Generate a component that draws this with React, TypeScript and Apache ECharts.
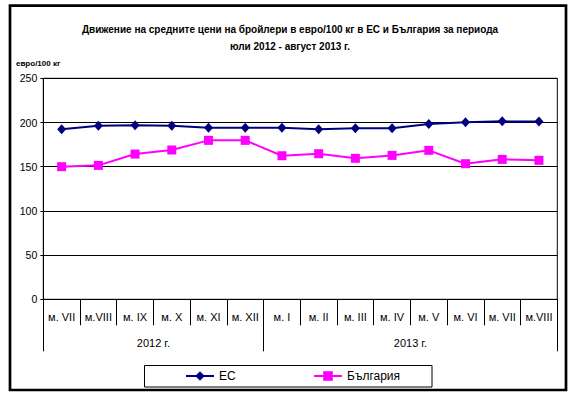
import React, { useEffect, useRef } from "react";
import * as echarts from "echarts";

const months = ["м. VII", "м.VIII", "м. IX", "м. X", "м. XI", "м. XII", "м. I", "м. II", "м. III", "м. IV", "м. V", "м. VI", "м. VII", "м.VIII"];
const years = ["2012 г.", "2013 г."];
const monthsPerYear = [6, 8];
const ecValues = [192.3, 196.3, 196.8, 196.3, 194.1, 194.0, 194.0, 192.3, 193.4, 193.4, 198.3, 200.2, 201.3, 201.0];
const bgValues = [150.0, 151.5, 164.3, 168.9, 179.8, 179.8, 162.4, 164.7, 159.5, 162.8, 168.5, 153.4, 158.3, 157.2];
const yTicks = [0, 50, 100, 150, 200, 250];

const FONT = "'Liberation Sans', Arial, sans-serif";

export default function App() {
  const ref = useRef<HTMLDivElement>(null);
  useEffect(() => {
    if (!ref.current) return;
    const chart = echarts.init(ref.current, null, { renderer: "svg" });
    const bounds: number[] = [0];
    const centers: number[] = [];
    monthsPerYear.forEach((n) => {
      const start = bounds[bounds.length - 1];
      centers.push(start + n / 2);
      bounds.push(start + n);
    });
    const total = bounds[bounds.length - 1];
    chart.setOption({
      animation: false,
      backgroundColor: "#fff",
      textStyle: { fontFamily: FONT, color: "#000" },
      title: [
        {
          text: "Движение на средните цени на бройлери в евро/100 кг в ЕС и България за периода\nюли 2012 - август 2013 г.",
          left: "center",
          top: 16,
          textStyle: { fontFamily: FONT, fontSize: 10, fontWeight: "bold", color: "#000", lineHeight: 17 },
        },
        {
          text: "евро/100 кг",
          left: 16,
          top: 58,
          padding: 0,
          textStyle: { fontFamily: FONT, fontSize: 8, fontWeight: "bold", color: "#000", lineHeight: 10 },
        },
      ],
      graphic: [
        { type: "rect", shape: { x: 10, y: 5.7, width: 556, height: 384.3 }, style: { fill: "none", stroke: "#000", lineWidth: 2.7 }, silent: true },
        { type: "rect", shape: { x: 144.5, y: 365.5, width: 287.5, height: 21.5 }, style: { fill: "none", stroke: "#000", lineWidth: 1 }, silent: true },
      ],
      legend: [
        {
          data: ["ЕС"], left: 185, top: 370, padding: 0, itemWidth: 28, itemHeight: 12,
          textStyle: { fontFamily: FONT, fontSize: 12, color: "#000" },
        },
        {
          data: ["България"], left: 313, top: 370, padding: 0, itemWidth: 28, itemHeight: 12,
          textStyle: { fontFamily: FONT, fontSize: 12, color: "#000" },
        },
      ],
      grid: { left: 43.3, right: 22.7, top: 78.3, bottom: 97.7, show: true, borderColor: "#000", borderWidth: 1, backgroundColor: "transparent" },
      xAxis: [
        {
          type: "category",
          data: months,
          boundaryGap: true,
          axisLine: { show: true, lineStyle: { color: "#000", width: 1 } },
          axisTick: { show: true, interval: 0, length: 26, lineStyle: { color: "#000", width: 1 } },
          axisLabel: { interval: 0, margin: 12, fontSize: 11, color: "#000", fontFamily: FONT },
          splitLine: { show: false },
        },
        {
          type: "value",
          position: "bottom",
          min: 0,
          max: total,
          axisLine: { show: false },
          splitLine: { show: false },
          axisTick: { show: true, customValues: bounds, length: 52, lineStyle: { color: "#000", width: 1 } },
          axisLabel: {
            show: true,
            customValues: centers,
            margin: 38,
            fontSize: 11,
            color: "#000",
            fontFamily: FONT,
            formatter: (v: number) => {
              const i = centers.findIndex((c) => Math.abs(c - v) < 1e-6);
              return i >= 0 ? years[i] : "";
            },
          },
        },
      ],
      yAxis: {
        type: "value",
        min: yTicks[0],
        max: yTicks[yTicks.length - 1],
        interval: yTicks[1] - yTicks[0],
        axisLine: { show: true, lineStyle: { color: "#000", width: 1 } },
        axisTick: { show: true, length: 3, lineStyle: { color: "#000" } },
        axisLabel: { margin: 6, fontSize: 10.5, color: "#000", fontFamily: FONT, lineHeight: 11 },
        splitLine: { show: true, lineStyle: { color: "#000", width: 1 } },
      },
      series: [
        {
          name: "ЕС",
          type: "line",
          data: ecValues,
          symbol: "diamond",
          symbolSize: [9, 10],
          itemStyle: { color: "#000080" },
          lineStyle: { color: "#000080", width: 2 },
        },
        {
          name: "България",
          type: "line",
          data: bgValues,
          symbol: "rect",
          symbolSize: 9,
          itemStyle: { color: "#FF00FF" },
          lineStyle: { color: "#FF00FF", width: 2 },
        },
      ],
    });
    return () => chart.dispose();
  }, []);
  return <div ref={ref} style={{ position: "fixed", left: 0, top: 0, width: 580, height: 397 }} />;
}
